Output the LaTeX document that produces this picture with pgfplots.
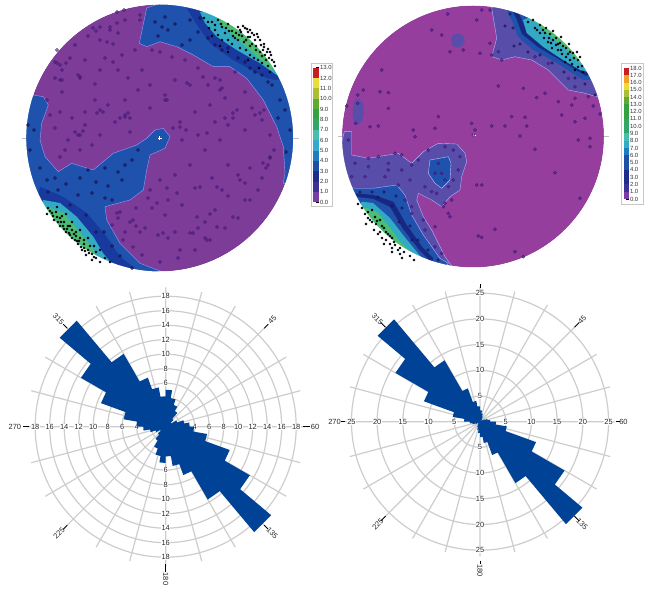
\documentclass[border=0pt]{standalone}
\usepackage{pgfplots}
\pgfplotsset{compat=1.18}
\usepgfplotslibrary{polar}
\usepackage{fontspec}
\setmainfont{Liberation Sans}

\definecolor{petal}{RGB}{0,66,150}
\definecolor{ringgray}{RGB}{205,205,205}
\definecolor{netpurpleA}{RGB}{125,60,152}
\definecolor{netpurpleB}{RGB}{150,62,158}
\definecolor{lav}{RGB}{88,78,170}
\definecolor{blueA}{RGB}{30,82,172}
\definecolor{blueB}{RGB}{24,58,158}
\definecolor{navy}{RGB}{24,40,130}
\definecolor{tealA}{RGB}{50,170,195}
\definecolor{greenA}{RGB}{75,190,115}
\definecolor{dotc}{RGB}{70,25,125}
\definecolor{dotd}{RGB}{25,20,90}
\definecolor{c0}{RGB}{122,60,165}
\definecolor{c1}{RGB}{60,50,150}
\definecolor{c2}{RGB}{30,45,140}
\definecolor{c3}{RGB}{30,80,165}
\definecolor{c4}{RGB}{30,125,190}
\definecolor{c5}{RGB}{50,170,205}
\definecolor{c6}{RGB}{70,190,175}
\definecolor{c7}{RGB}{50,165,105}
\definecolor{c8}{RGB}{55,160,65}
\definecolor{c9}{RGB}{95,170,50}
\definecolor{c10}{RGB}{170,190,55}
\definecolor{c11}{RGB}{235,220,60}
\definecolor{c12}{RGB}{240,160,40}
\definecolor{c13}{RGB}{200,30,35}

\newcommand{\swatch}[3]{\addplot[fill=#1,draw=none] coordinates {(0,#2)(1,#2)(1,#3)(0,#3)} --cycle;}
\pgfplotsset{
  roseaxis/.style={scale only axis, clip=false, ymin=0, xmin=0, xmax=360,
    xtick={0,15,...,345}, xticklabels={}, yticklabels={},
    grid=major, grid style={ringgray,line width=1.2bp},
    axis line style={draw=none}, tick style={draw=none}},
  cbaxis/.style={scale only axis, clip=false, xmin=0, xmax=1, xtick=\empty,
    axis line style={draw=none}, ticklabel pos=right, tick pos=right,
    major tick length=3bp, tick style={black,line width=.4bp},
    yticklabel style={font=\fontsize{6}{7}\selectfont, text=black!80, inner sep=.5pt},
    yticklabel={\pgfmathprintnumber[fixed,fixed zerofill,precision=1,assume math mode=true]{\tick}}},
  softdots/.style={only marks,mark=*,mark size=#1,color=dotc,
    mark options={draw=none,fill=dotc,fill opacity=.5}},
  darkdots/.style={only marks,mark=*,mark size=#1,color=dotd,
    mark options={draw=none,fill=dotd,fill opacity=.6}},
  harddots/.style={only marks,mark=*,mark size=#1,color=black,
    mark options={draw=none,fill=black!88!blue}},
}
\tikzset{
  rl/.style={font=\fontsize{7.5}{8}\selectfont, text=black!85, fill=white, inner sep=.2pt},
  arm/.style={black, line width=.9bp},
  sl/.style={font=\fontsize{7.5}{8}\selectfont, text=black!85, inner sep=0pt},
}

\begin{document}
\begin{tikzpicture}[x=1bp,y=1bp]
\path[use as bounding box] (0,0) rectangle (651bp,592bp);

% stereonets, pixel coordinates of the picture
\begin{axis}[at={(0,0)}, anchor=south west, scale only axis, width=651bp, height=592bp,
  xmin=0, xmax=651, ymin=0, ymax=592, y dir=reverse, hide axis, clip=false]

\fill[netpurpleA] (axis cs:159.7,138) circle [radius=133.5bp];
\fill[netpurpleB] (axis cs:473,136.5) circle [radius=131bp];

% net 1, NE area
\addplot[fill=blueA,draw=blue!40!white,line width=.4bp] coordinates {(146.7,8)(139.3,43.3)(146.7,46.7)(160,41.7)(176.7,46.7)(193.3,55)(213.3,66.7)(230,66.7)(246.7,78.3)(263.3,100)(276.7,126.7)(283.3,146.7)(285,173.3)(283.3,183.3)(300,185)(305,140)(290,70)(230,10)(170,0)} --cycle;
\addplot[fill=blueB,draw=none] coordinates {(186.7,8.3)(197,25)(210,43)(233,60)(266.7,78.3)(276.7,80)(295,75)(240,10)} --cycle;
\addplot[fill=tealA,draw=none] coordinates {(200,12)(205,23)(216.7,36.7)(236.7,50)(260,63.3)(276.7,75)(295,70)(240,10)} --cycle;
\addplot[fill=greenA,draw=none] coordinates {(216.7,20)(230,33)(250,50)(270,70)(295,60)(235,5)} --cycle;
% net 1, W and SW area
\addplot[fill=blueA,draw=blue!40!white,line width=.4bp] coordinates {(33.3,95)(43.3,96.7)(48.3,105)(41.7,123.3)(40,140)(45,156.7)(58.3,171.7)(71.7,163.3)(93.3,170)(113.3,153.3)(136.7,145)(146.7,138.3)(155,130)(163.3,128.3)(170,136.7)(165,148.3)(150,155)(146.7,170)(143.3,190)(130,200)(105,206.7)(106.7,220)(120,243.3)(140,263.3)(160,271)(130,285)(60,250)(20,180)(10,120)} --cycle;
\addplot[fill=blueB,draw=none] coordinates {(40,186.7)(63,196.7)(86.7,213)(106.7,236.7)(120,256.7)(133,266.7)(110,285)(30,230)} --cycle;
\addplot[fill=tealA,draw=none] coordinates {(43.3,200)(60,203)(76.7,216.7)(93.3,236.7)(103,253)(112,264)(90,280)(30,230)} --cycle;
\addplot[fill=greenA,draw=none] coordinates {(46.7,206.7)(63.3,213)(78,230)(91.7,246.7)(97,257)(85,280)(30,230)} --cycle;

% net 1, scattered points over the low-density area
\addplot[softdots=1.7bp] coordinates {
(117,12)(124,10)(100,27)(110,27)(96,31)(118,33)(125,20)(140,20)(107,42)(113,44)(135,50)(152,50)(160,52)(172,57)(185,60)(198,68)(215,78)(222,88)(235,72)(245,92)(252,108)(262,120)(270,135)(274,150)(268,165)(262,178)(270,158)(258,190)(245,200)(238,218)(225,228)(210,240)(195,250)(178,258)(160,262)(142,255)(125,232)(118,218)(112,225)(130,222)(145,228)(158,235)(165,215)(175,232)(190,233)(205,222)(205,238)(215,210)(228,196)(238,175)(250,168)(228,165)(212,178)(195,188)(182,205)(168,200)(152,208)(136,208)(120,212)(148,198)(160,180)(175,175)(190,165)(205,150)(220,140)(233,118)(245,130)(255,115)(225,98)(210,105)(195,112)(180,122)(182,140)(198,135)(215,122)(237,110)(165,100)(150,108)(130,118)(125,115)(115,122)(100,135)(85,125)(78,135)(68,140)(55,128)(60,112)(72,118)(62,92)(55,78)(62,80)(80,78)(95,84)(100,70)(85,60)(78,75)(60,65)(55,62)(75,45)(57,50)(165,95)(175,80)(190,85)(208,85)(220,80)(150,85)(138,90)(128,78)(118,70)(105,58)(122,55)(85,112)(95,100)(108,105)(125,100)(65,150)(80,150)(92,145)(50,115)
(57,63)(60,80)(80,77)(100,110)(125,117)(130,132)(80,135)(60,157)(47,100)(110,30)(93,28)(117,23)(140,15)(167,100)(180,127)(207,133)(233,113)(220,90)(203,77)(187,83)(260,113)(270,157)(263,163)(240,180)(217,187)(200,187)(177,193)(157,203)(133,220)(117,213)(123,240)(133,247)(163,233)(193,233)(207,240)(180,250)(197,217)(217,227)(233,217)(250,200)
(120,118)(128,113)(83,131)(75,132)(66,63)(62,70)(103,112)(97,113)(173,128)(186,130)(225,118)(228,125)(264,110)(266,168)(245,183)(222,190)(136,226)(140,232)(168,238)(198,228)(210,214)(100,40)(88,36)(70,58)(150,190)(167,188)(113,62)(142,70)
};
% net 1, darker points inside the blue areas
\addplot[darkdots=1.7bp] coordinates {
(162,27)(155,22)(168,30)(175,24)(190,20)(198,32)(208,38)(222,50)(238,58)(250,68)(262,75)(272,85)(280,100)(200,18)(215,45)(228,48)(245,62)(255,72)(268,82)(285,110)(290,130)(286,152)(278,118)(190,40)(182,45)(165,17)(158,36)
(34,130)(40,168)(47,180)(55,178)(66,184)(80,178)(88,170)(96,182)(105,168)(108,186)(118,172)(125,165)(132,160)(138,150)(122,180)(112,200)(92,193)(78,195)(70,205)(86,215)(96,232)(104,232)(112,246)(120,256)(132,268)(58,190)(48,192)(30,150)(28,125)(105,198)
};
% net 1, points in the two dense areas
\addplot[harddots=1.2bp] coordinates {
(212,22)(218,20)(222,27)(228,24)(232,31)(238,27)(225,33)(235,38)(241,32)(245,28)(248,37)(244,42)(252,33)(255,40)(250,46)(258,37)(261,45)(256,50)(264,44)(267,52)(262,56)(270,52)(272,60)(266,60)(275,66)(268,66)(258,60)(250,55)(240,48)(232,44)(222,40)(215,30)(208,22)(218,35)(228,40)(238,40)(246,50)(254,58)(262,63)(270,72)(242,36)(248,32)(263,50)(236,33)(229,31)
(240,30)(243,26)(247,29)(250,30)(254,35)(257,34)(260,40)(264,47)(268,49)(271,55)(274,62)(252,44)(256,46)(260,52)(265,55)(269,58)(246,40)(250,37)(239,35)(233,36)(226,28)(221,24)(215,25)(209,28)(204,18)(212,36)(220,46)(228,52)(248,60)(259,68)
(48,208)(52,213)(47,214)(56,212)(60,218)(54,220)(64,222)(60,226)(68,226)(66,232)(72,230)(76,236)(72,238)(80,238)(78,244)(84,244)(82,250)(88,250)(86,255)(92,254)(96,258)(92,260)(100,262)(57,207)(66,214)(72,222)(80,230)(88,238)(94,246)(100,250)(105,258)(110,262)(58,222)(64,229)(70,235)(77,241)(84,248)
(50,211)(53,216)(57,217)(61,222)(63,226)(67,229)(69,233)(74,234)(75,240)(79,241)(81,247)(85,251)(89,253)(94,257)(62,216)(70,226)(76,232)(84,240)(90,246)(96,252)
};

% net 2, NE area
\addplot[fill=lav,draw=blue!30!white,line width=.4bp] coordinates {(491.7,8)(496.7,38.3)(491.7,56.7)(501.7,60)(515,56.7)(531.7,60)(548.3,70)(568.3,90)(585,93.3)(596.7,96.7)(620,90)(598,50)(560,5)(500,0)} --cycle;
\addplot[fill=blueA,draw=none] coordinates {(506.7,10)(511.7,20)(518,36.7)(533,50)(556.7,63)(583,80)(590,80)(610,60)(560,5)} --cycle;
\addplot[fill=navy,draw=none] coordinates {(511,8)(517,20)(522,34)(538,47)(560,60)(586,76)(610,60)(560,5)} --cycle;
\addplot[fill=blueA,draw=none] coordinates {(516,8)(522,20)(527,32)(541,44)(564,58)(588,73)(610,60)(560,5)} --cycle;
\addplot[fill=tealA,draw=none] coordinates {(523,20)(526.7,33)(543,46.7)(563,60)(580,70)(586.7,71.7)(610,60)(560,5)} --cycle;
\addplot[fill=greenA,draw=none] coordinates {(536.7,23)(546.7,33)(563,46.7)(576.7,60)(580,63.3)(600,55)(560,5)} --cycle;
% net 2, islands
\addplot[fill=lav,draw=none] coordinates {(451,40)(453,35)(458,33.5)(463,35.5)(465,41)(462,46)(457,47.5)(452.5,45.5)} --cycle;
\addplot[fill=lav,draw=none] coordinates {(353,108)(355,100)(359,98.5)(363,104)(364,113)(362,121)(358,125)(354,122)(352.5,115)} --cycle;
% net 2, W and SW area
\addplot[fill=lav,draw=blue!30!white,line width=.4bp] coordinates {(344.3,131.7)(351.7,131.7)(351.7,146.7)(351.7,155)(368.3,158.3)(398.3,153.3)(411.7,163.3)(423.3,151.7)(438.3,143.3)(456.7,144)(465,153.3)(466.7,161.7)(461.7,176.7)(460,190)(450,196.7)(441.7,206.7)(431.7,200)(418.3,193.3)(416.7,200)(423.3,216.7)(431.7,230)(445,256.7)(451.7,266)(430,285)(370,240)(335,170)} --cycle;
\addplot[fill=blueA,draw=blue!25!white,line width=.4bp] coordinates {(430,160)(448.3,156.7)(451,163.3)(450,180)(441.7,188.3)(435,183.3)(428.3,173.3)} --cycle;
\addplot[fill=blueA,draw=blue!30!white,line width=.4bp] coordinates {(355,188.3)(373.3,188.3)(396.7,185)(405,195)(411.7,215)(423.3,235)(440,258.3)(448.3,263.3)(430,285)(360,240)(340,185)} --cycle;
\addplot[fill=navy,draw=none] coordinates {(356.7,193.3)(373.3,195)(393.3,201.7)(406.7,225)(423.3,248.3)(433.3,258.3)(425,285)(355,240)(340,195)} --cycle;
\addplot[fill=blueA,draw=none] coordinates {(358,197)(373.3,199)(390,207)(403,229)(420,251)(428,259)(425,285)(355,240)(340,200)} --cycle;
\addplot[fill=tealA,draw=none] coordinates {(361.7,201.7)(373,203)(390,218)(403,235)(416.7,251.7)(421,257)(410,280)(350,225)} --cycle;
\addplot[fill=greenA,draw=none] coordinates {(363,206.7)(376.7,211.7)(388,225)(400,241.7)(410,251.7)(405,278)(350,225)} --cycle;

% net 2, scattered points
\addplot[softdots=1.6bp] table[row sep=\\, x expr=\thisrow{x}/3+335, y expr=\thisrow{y}/3] {x y\\ 338 42\\ 320 105\\ 290 90\\ 345 155\\ 385 150\\ 435 160\\ 440 30\\ 465 30\\ 425 60\\ 140 210\\ 85 270\\ 135 275\\ 160 278\\ 68 285\\ 35 318\\ 160 325\\ 310 350\\ 130 378\\ 105 380\\ 235 390\\ 240 410\\ 300 385\\ 420 390\\ 415 405\\ 470 378\\ 510 378\\ 530 350\\ 570 352\\ 575 378\\ 555 408\\ 605 293\\ 565 265\\ 490 258\\ 630 280\\ 670 305\\ 710 315\\ 720 295\\ 775 318\\ 795 342\\ 750 355\\ 720 365\\ 680 345\\ 765 415\\ 730 420\\ 765 440\\ 660 518\\ 600 448\\ 440 555\\ 425 555\\ 340 640\\ 325 620\\ 345 650\\ 300 680\\ 265 660\\ 440 712\\ 480 688\\ 430 708\\ 540 755\\ 565 770\\ 735 595\\ 410 370\\ 490 155\\ 500 180\\ 470 165\\ 465 130\\ 40 420\\ 100 475\\ 130 470\\ 160 490\\ 200 465\\ 180 460\\ 100 500\\ 160 510\\ 200 510\\ 230 495\\ 250 480\\ 280 450\\ 330 440\\ 355 450\\ 375 470\\ 370 510\\ 355 540\\ 340 560\\ 305 580\\ 270 560\\ 290 575\\ 225 540\\ 190 555\\ 150 530\\ 90 530\\ 50 530\\ 60 490\\ 330 610\\ 350 600\\ 210 600\\ 230 640\\ 270 690\\ 230 620\\ 320 760\\ 300 740\\ 68 310\\ 62 370\\ 600 170\\ 640 190\\ 700 235\\ 720 260\\ 760 290\\ 310 490\\ 320 520\\ 300 520\\ 330 540\\ };
\addplot[darkdots=1.4bp] coordinates {
(510,14)(513,28)(520,44)(528,52)(540,55)(552,63)(564,72)(575,78)(585,84)(595,95)(505,26)(514,46)(360,192)(372,192)(384,192)(396,196)(402,208)(410,226)(418,240)(428,250)(438,260)(378,197)(392,206)(399,222)(412,240)
};
\addplot[harddots=1.15bp] coordinates {
(533,20)(540,25)(546,28)(540,33)(550,34)(556,38)(548,42)(560,43)(566,48)(558,50)(570,52)(574,58)(566,57)(578,60)(582,66)(572,64)(552,48)(544,38)(562,54)(556,45)(535,28)(528,22)(583,72)(575,70)(565,62)(553,31)(561,37)(569,44)(577,52)
(537,30)(543,30)(549,38)(553,40)(558,44)(563,46)(568,54)(573,53)(580,57)(545,33)(551,43)(561,50)(570,60)(578,67)
(362,208)(368,212)(372,210)(375,217)(368,218)(380,220)(376,224)(384,228)(380,232)(388,234)(392,238)(386,240)(395,245)(400,248)(392,248)(404,252)(410,256)(414,260)(402,258)(372,222)(358,204)(366,224)(374,230)(382,238)(390,244)
(365,214)(370,220)(377,221)(382,226)(386,232)(390,236)(394,242)(398,250)(378,234)(384,244)(392,252)(400,254)
};

% keep everything inside the two circles
\draw[white,line width=30bp] (axis cs:159.7,138) circle [radius=148.5bp];
\draw[white,line width=30bp] (axis cs:473,136.5) circle [radius=146bp];

% edge and centre marks of the nets
\draw[black!25,line width=.5bp] (axis cs:22,138)--(axis cs:26,138) (axis cs:293,138)--(axis cs:299,138);
\draw[black!25,line width=.5bp] (axis cs:338,136.5)--(axis cs:342,136.5) (axis cs:604,136.5)--(axis cs:609,136.5);
\draw[white,line width=.6bp] (axis cs:157.5,138)--(axis cs:161.5,138) (axis cs:159.5,136)--(axis cs:159.5,140);
\draw[white,line width=.6bp] (axis cs:471.5,135)--(axis cs:475.5,135) (axis cs:473.3,133)--(axis cs:473.3,137);

% colour bar frames
\draw[black!22,line width=.5bp] (axis cs:311,63.3) rectangle (axis cs:332.7,206.7);
\draw[black!22,line width=.5bp] (axis cs:621.7,63.3) rectangle (axis cs:643,204);
\end{axis}

% colour bars
\begin{axis}[cbaxis, at={(313.3bp,389.7bp)}, anchor=south west, width=6bp, height=134.6bp,
  ymin=0, ymax=13, ytick={0,1,...,13}]
\swatch{c0}{0}{1}\swatch{c1}{1}{2}\swatch{c2}{2}{3}\swatch{c3}{3}{4}\swatch{c4}{4}{5}\swatch{c5}{5}{6}\swatch{c6}{6}{7}
\swatch{c7}{7}{8}\swatch{c8}{8}{9}\swatch{c9}{9}{10}\swatch{c10}{10}{11}\swatch{c11}{11}{12}\swatch{c13}{12}{13}
\end{axis}
\begin{axis}[cbaxis, at={(624bp,393bp)}, anchor=south west, width=5.3bp, height=131bp,
  ymin=0, ymax=18, ytick={0,1,...,18}]
\swatch{c0}{0}{1}\swatch{c1}{1}{2}\swatch{c2}{2}{3}\swatch{c2}{3}{4}\swatch{c3}{4}{5}\swatch{c3}{5}{6}\swatch{c4}{6}{7}\swatch{c5}{7}{8}\swatch{c6}{8}{9}
\swatch{c7}{9}{10}\swatch{c7}{10}{11}\swatch{c8}{11}{12}\swatch{c8}{12}{13}\swatch{c9}{13}{14}\swatch{c10}{14}{15}\swatch{c11}{15}{16}\swatch{c12}{16}{17}\swatch{c13}{17}{18}
\end{axis}

% rose diagram, left
\begin{polaraxis}[roseaxis, at={(165.7bp,165.3bp)}, anchor=center, width=278.4bp, height=278.4bp,
  ymax=19.2, ytick={2,4,...,18}]
\pgfplotsinvokeforeach{4,6,...,18}{
  \node[rl] at (axis cs:0,#1) {#1};
  \node[rl] at (axis cs:180,#1) {#1};
}
\pgfplotsinvokeforeach{6,8,...,18}{
  \node[rl] at (axis cs:90,#1) {#1};
  \node[rl] at (axis cs:270,#1) {#1};
}
\addplot[fill=petal,draw=none] table[row sep=\\, x expr=90-\thisrow{b}, y=r] {b r\\ 0 5.1\\ 10 5.1\\ 10 4.0\\ 20 4.0\\ 20 3.2\\ 30 3.2\\ 30 2.5\\ 40 2.5\\ 40 1.4\\ 50 1.4\\ 50 0.9\\ 60 0.9\\ 60 1.7\\ 70 1.7\\ 70 2.6\\ 80 2.6\\ 80 3.3\\ 90 3.3\\ 90 3.9\\ 100 3.9\\ 100 5.8\\ 110 5.8\\ 110 9.4\\ 120 9.4\\ 120 13.4\\ 130 13.4\\ 130 19.0\\ 140 19.0\\ 140 11.6\\ 150 11.6\\ 150 7.1\\ 160 7.1\\ 160 5.5\\ 170 5.5\\ 170 4.1\\ 180 4.1\\ 180 5.0\\ 190 5.0\\ 190 4.1\\ 200 4.1\\ 200 3.2\\ 210 3.2\\ 210 2.2\\ 220 2.2\\ 220 1.4\\ 230 1.4\\ 230 0.9\\ 240 0.9\\ 240 1.5\\ 250 1.5\\ 250 2.2\\ 260 2.2\\ 260 3.1\\ 270 3.1\\ 270 4.0\\ 280 4.0\\ 280 5.9\\ 290 5.9\\ 290 9.5\\ 300 9.5\\ 300 13.5\\ 310 13.5\\ 310 19.1\\ 320 19.1\\ 320 11.6\\ 330 11.6\\ 330 7.2\\ 340 7.2\\ 340 5.5\\ 350 5.5\\ 350 4.2\\ 360 4.2\\ } --cycle;
\draw[arm] (axis cs:0,19)--(axis cs:0,19.9);
\draw[arm] (axis cs:180,18.8)--(axis cs:180,19.7);
\draw[arm] (axis cs:270,19)--(axis cs:270,20);
\draw[arm] (axis cs:45,19.2)--(axis cs:45,20);
\draw[arm] (axis cs:135,19.2)--(axis cs:135,20);
\draw[arm] (axis cs:225,19.2)--(axis cs:225,20);
\draw[arm] (axis cs:315,19.2)--(axis cs:315,20);
\node[sl] at (axis cs:0,20.6) {60};
\node[sl] at (axis cs:180,20.8) {270};
\node[sl,rotate=-90] at (axis cs:270,21) {180};
\node[sl,rotate=45] at (axis cs:45,20.8) {45};
\node[sl,rotate=-45] at (axis cs:135,20.9) {315};
\node[sl,rotate=45] at (axis cs:225,20.8) {225};
\node[sl,rotate=-45] at (axis cs:315,20.8) {135};
\end{polaraxis}

% rose diagram, right
\begin{polaraxis}[roseaxis, at={(480bp,170.3bp)}, anchor=center, width=269.4bp, height=269.4bp,
  ymax=26.2, ytick={5,10,...,25}]
\pgfplotsinvokeforeach{5,10,...,25}{
  \node[rl] at (axis cs:0,#1) {#1};
  \node[rl] at (axis cs:90,#1) {#1};
  \node[rl] at (axis cs:180,#1) {#1};
  \node[rl] at (axis cs:270,#1) {#1};
}
\addplot[fill=petal,draw=none] table[row sep=\\, x expr=90-\thisrow{b}, y=r] {b r\\ 0 2.2\\ 10 2.2\\ 10 1.6\\ 20 1.6\\ 20 1.1\\ 30 1.1\\ 30 0.7\\ 40 0.7\\ 40 0.4\\ 50 0.4\\ 50 0.4\\ 60 0.4\\ 60 0.9\\ 70 0.9\\ 70 1.5\\ 80 1.5\\ 80 2.0\\ 90 2.0\\ 90 3.1\\ 100 3.1\\ 100 5.3\\ 110 5.3\\ 110 11.6\\ 120 11.6\\ 120 19.0\\ 130 19.0\\ 130 26.0\\ 140 26.0\\ 140 13.8\\ 150 13.8\\ 150 6.9\\ 160 6.9\\ 160 4.2\\ 170 4.2\\ 170 3.0\\ 180 3.0\\ 180 2.2\\ 190 2.2\\ 190 1.6\\ 200 1.6\\ 200 1.1\\ 210 1.1\\ 210 0.7\\ 220 0.7\\ 220 0.4\\ 230 0.4\\ 230 0.4\\ 240 0.4\\ 240 0.9\\ 250 0.9\\ 250 1.5\\ 260 1.5\\ 260 2.0\\ 270 2.0\\ 270 3.1\\ 280 3.1\\ 280 5.4\\ 290 5.4\\ 290 11.6\\ 300 11.6\\ 300 19.0\\ 310 19.0\\ 310 26.0\\ 320 26.0\\ 320 13.8\\ 330 13.8\\ 330 6.9\\ 340 6.9\\ 340 4.1\\ 350 4.1\\ 350 3.0\\ 360 3.0\\ } --cycle;
\draw[arm] (axis cs:0,26.4)--(axis cs:0,27.2);
\draw[arm] (axis cs:90,26)--(axis cs:90,26.7);
\draw[arm] (axis cs:180,26.2)--(axis cs:180,27);
\draw[arm] (axis cs:270,27)--(axis cs:270,27.7);
\draw[arm] (axis cs:45,26)--(axis cs:45,27.3);
\draw[arm] (axis cs:135,26)--(axis cs:135,27.3);
\draw[arm] (axis cs:225,26)--(axis cs:225,27.3);
\draw[arm] (axis cs:315,26)--(axis cs:315,27.3);
\node[sl] at (axis cs:0,27.9) {60};
\node[sl] at (axis cs:180,28.3) {270};
\node[sl,rotate=-90] at (axis cs:270,29) {180};
\node[sl,rotate=45] at (axis cs:45,28.1) {45};
\node[sl,rotate=-45] at (axis cs:135,28.2) {315};
\node[sl,rotate=45] at (axis cs:225,28.1) {225};
\node[sl,rotate=-45] at (axis cs:315,28.1) {135};
\end{polaraxis}
\end{tikzpicture}
\end{document}
